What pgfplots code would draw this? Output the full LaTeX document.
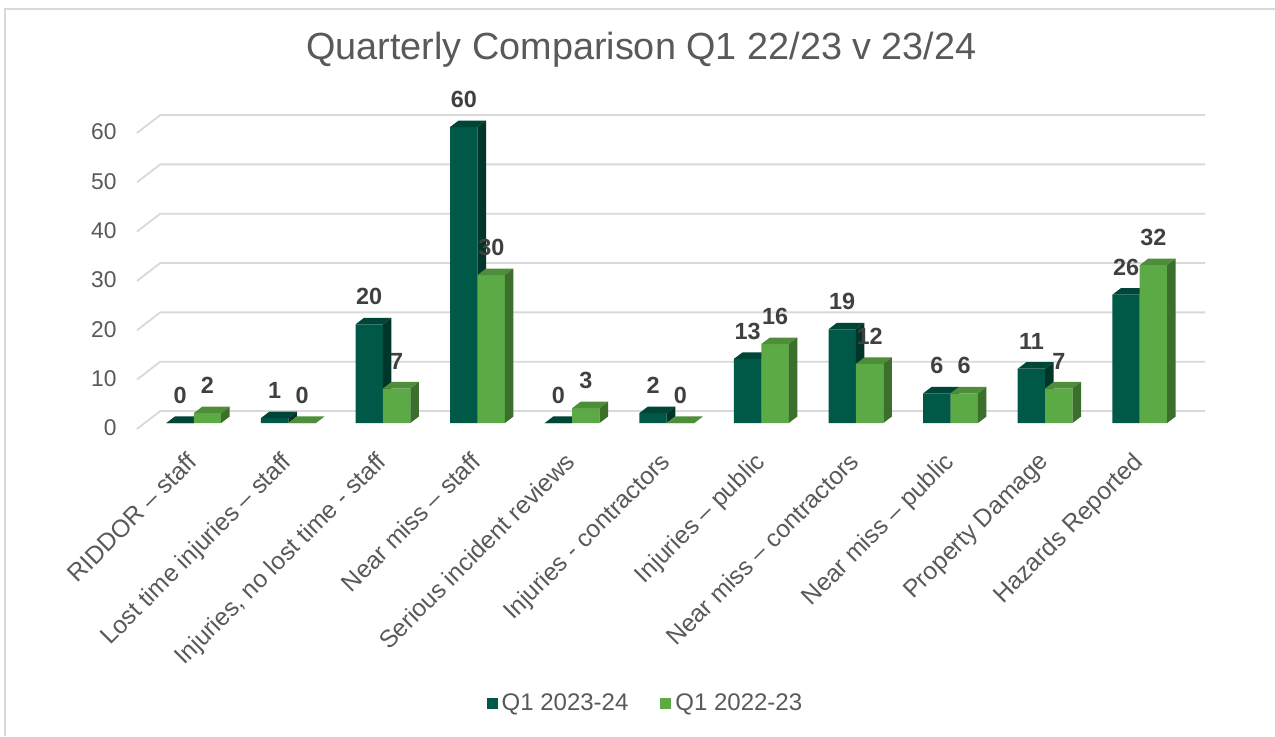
\documentclass[border=0pt]{standalone}
\usepackage{pgfplots}
\usepackage{pgfplotstable}
\pgfplotsset{compat=1.18}
\usepackage{fontspec}
\setmainfont{Liberation Sans}

\definecolor{darkF}{RGB}{0,88,70}
\definecolor{darkS}{RGB}{0,54,42}
\definecolor{darkT}{RGB}{0,70,56}
\definecolor{lightF}{RGB}{92,170,70}
\definecolor{lightS}{RGB}{60,110,44}
\definecolor{lightT}{RGB}{78,142,58}
\definecolor{gridc}{RGB}{217,217,217}
\definecolor{txt}{RGB}{89,89,89}
\definecolor{lbl}{RGB}{64,64,64}

\pgfplotstableread{
idx a b
0 0 2
1 1 0
2 20 7
3 60 30
4 0 3
5 2 0
6 13 16
7 19 12
8 6 6
9 11 7
10 26 32
}\data

% top and side faces of one 3D bar, read from the table
\newcommand\barfaces[4]{%
  \pgfplotstablegetelem{#1}{#2}\of\data
  \pgfmathsetmacro\vv{\pgfplotsretval}%
  \pgfmathsetmacro\xa{#1+#3}%
  \pgfmathsetmacro\xb{\xa+0.29}%
  \pgfmathsetmacro\xc{\xb+0.09}%
  \pgfmathsetmacro\xd{\xa+0.09}%
  \pgfmathsetmacro\vt{\vv+1.32}%
  \edef\tmp{%
    \noexpand\addplot[fill=#4T, draw=none, mark=none, forget plot] coordinates {(\xa,\vv) (\xb,\vv) (\xc,\vt) (\xd,\vt)};
    \noexpand\addplot[fill=#4S, draw=none, mark=none, forget plot] coordinates {(\xb,0) (\xc,1.32) (\xc,\vt) (\xb,\vv)};
  }\tmp
}

\begin{document}
\begin{tikzpicture}
\useasboundingbox (0,0) rectangle (637.5pt,368pt);
\fill[white] (0,0) rectangle (637.5pt,368pt);
\draw[gridc, line width=1pt] (637.5pt,363.5pt) -- (2.5pt,363.5pt) -- (2.5pt,0);
\node[font=\fontsize{18.9}{22}\selectfont, text=txt] at (320.75pt,343pt) {Quarterly Comparison Q1 22/23 v 23/24};
\begin{axis}[
  at={(68.5pt,156.5pt)}, anchor=south west,
  width=534pt, height=148pt, scale only axis,
  xmin=-0.6, xmax=10.69, ymin=0, ymax=60,
  clip=false,
  axis line style={draw=none},
  major tick length=0pt,
  ytick={0,10,...,60},
  xtick={0.05,1.05,2.05,3.05,4.05,5.05,6.05,7.05,8.05,9.05,10.05},
  xticklabels={RIDDOR -- staff, Lost time injuries -- staff, {Injuries, no lost time - staff}, Near miss -- staff, Serious incident reviews, Injuries - contractors, Injuries -- public, Near miss -- contractors, Near miss -- public, Property Damage, Hazards Reported},
  yticklabel style={font=\fontsize{11.4}{13}\selectfont, text=txt, anchor=east, inner sep=0pt, xshift=-10pt, yshift=-2.5pt},
  /pgf/number format/assume math mode=true,
  xticklabel style={font=\fontsize{12.3}{14}\selectfont, text=txt, anchor=base east, rotate=45, inner sep=0pt},
  xticklabel shift=20pt,
  legend image code/.code={\fill[#1] (0pt,-2.75pt) rectangle (5.5pt,2.75pt);},
  legend style={at={(axis description cs:0.477,-0.949)}, anchor=center, draw=none, fill=none,
    legend columns=2, font=\fontsize{12}{14}\selectfont, text=txt,
    /tikz/every even column/.append style={column sep=14pt}},
]
% back-wall gridlines
\addplot[gridc, line width=0.9pt, mark=none, forget plot] coordinates {(-0.6,-1.2) (-0.354,2.43) (10.69,2.43)};
\addplot[gridc, line width=0.9pt, mark=none, forget plot] coordinates {(-0.6,8.8) (-0.354,12.43) (10.69,12.43)};
\addplot[gridc, line width=0.9pt, mark=none, forget plot] coordinates {(-0.6,18.8) (-0.354,22.43) (10.69,22.43)};
\addplot[gridc, line width=0.9pt, mark=none, forget plot] coordinates {(-0.6,28.8) (-0.354,32.43) (10.69,32.43)};
\addplot[gridc, line width=0.9pt, mark=none, forget plot] coordinates {(-0.6,38.8) (-0.354,42.43) (10.69,42.43)};
\addplot[gridc, line width=0.9pt, mark=none, forget plot] coordinates {(-0.6,48.8) (-0.354,52.43) (10.69,52.43)};
\addplot[gridc, line width=0.9pt, mark=none, forget plot] coordinates {(-0.6,58.8) (-0.354,62.43) (10.69,62.43)};

% Q1 2023-24
\addplot[ybar, bar width=0.29, bar shift=-0.145, fill=darkF, draw=none, forget plot]
  table[x=idx, y=a]{\data};
\pgfplotsinvokeforeach{0,...,10}{\barfaces{#1}{a}{-0.29}{dark}}
% Q1 2022-23
\addplot[ybar, bar width=0.29, bar shift=0.145, fill=lightF, draw=none, forget plot]
  table[x=idx, y=b]{\data};
\pgfplotsinvokeforeach{0,...,10}{\barfaces{#1}{b}{0}{light}}

% data labels
\addplot[draw=none, mark=none, forget plot, nodes near coords,
  nodes near coords style={anchor=center, yshift=13.75pt, text=lbl, font=\fontsize{11.7}{13}\selectfont\bfseries}]
  table[x expr=\thisrow{idx}-0.145, y=a]{\data};
\addplot[draw=none, mark=none, forget plot, nodes near coords,
  nodes near coords style={anchor=center, yshift=13.75pt, text=lbl, font=\fontsize{11.7}{13}\selectfont\bfseries}]
  table[x expr=\thisrow{idx}+0.145, y=b]{\data};

\addlegendimage{fill=darkF, draw=none}
\addlegendentry{Q1 2023-24}
\addlegendimage{fill=lightF, draw=none}
\addlegendentry{Q1 2022-23}
\end{axis}
\end{tikzpicture}
\end{document}
